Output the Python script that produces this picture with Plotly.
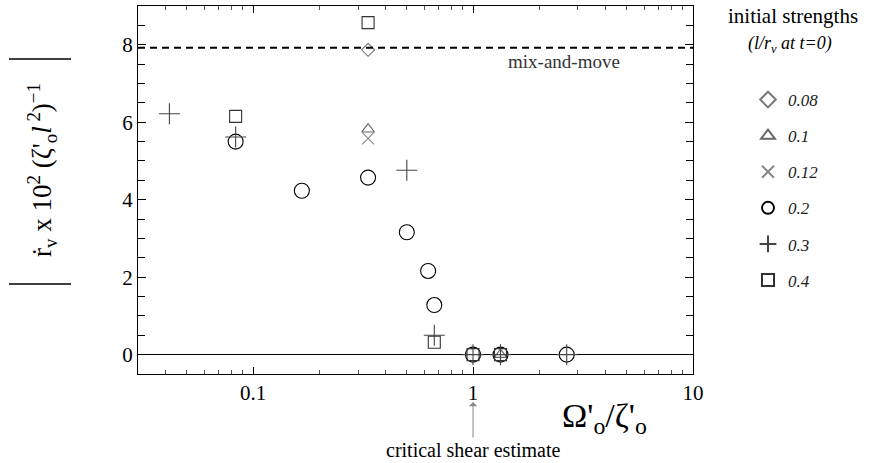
import plotly.graph_objects as go

# ---------------- data ----------------
strength_labels = ["0.08", "0.1", "0.12", "0.2", "0.3", "0.4"]

x_008 = [1/3]
y_008 = [7.87]

x_010 = [1/3, 4/3]
y_010 = [5.82, 0.0]

x_012 = [1/3]
y_012 = [5.58]

x_020 = [1/12, 1/6, 1/3, 1/2, 0.625, 2/3, 1.0, 4/3, 8/3]
y_020 = [5.50, 4.23, 4.57, 3.16, 2.16, 1.28, 0.0, 0.0, 0.0]

x_030 = [1/24, 1/12, 1/2, 2/3, 1.0, 4/3, 8/3]
y_030 = [6.22, 5.62, 4.76, 0.50, 0.0, 0.0, 0.0]

x_040 = [1/12, 1/3, 2/3, 1.0, 4/3]
y_040 = [6.15, 8.57, 0.32, 0.0, 0.0]

mix_and_move_level = 7.92
critical_shear = 1.0

x_tick_vals = [0.1, 1, 10]
x_tick_text = ["0.1", "1", "10"]
y_tick_vals = [0, 2, 4, 6, 8]
y_tick_text = ["0", "2", "4", "6", "8"]

# ---------------- layout geometry (pixels) ----------------
W, H = 869, 463
L, R, T, B = 138, 693, 6, 374
FONT = "Liberation Serif"


def px(xp):
    return (xp - L) / (R - L)


def py(yp):
    return (B - yp) / (B - T)


series = [
    (x_008, y_008, "diamond-open", 10, "#777777"),
    (x_010, y_010, "triangle-up-open", 11, "#666666"),
    (x_012, y_012, "x-thin-open", 12, "#888888"),
    (x_020, y_020, "circle-open", 15, "#000000"),
    (x_030, y_030, "cross-thin-open", 15, "#444444"),
    (x_040, y_040, "square-open", 12, "#333333"),
]

fig = go.Figure()
for lab, (xs, ys, sym, size, col) in zip(strength_labels, series):
    fig.add_trace(go.Scatter(
        x=xs, y=ys, mode="markers", name="<i>" + lab + "</i>",
        legendgroup=lab,
        marker=dict(symbol=sym, size=size, color=col, line=dict(width=1.1, color=col)),
    ))

fig.update_layout(
    width=W, height=H,
    margin=dict(l=L, r=W - R, t=T, b=H - B, pad=0),
    paper_bgcolor="white", plot_bgcolor="white",
    font=dict(family=FONT, size=19, color="black"),
    showlegend=True,
    legend=dict(
        x=px(748), y=py(82), xanchor="left", yanchor="top",
        font=dict(family=FONT, size=17, color="#222222"),
        tracegroupgap=11, bgcolor="rgba(0,0,0,0)", borderwidth=0,
        itemsizing="constant",
    ),
)

fig.update_xaxes(
    type="log", range=[-1.523, 1.0],
    showline=True, linecolor="black", linewidth=1, mirror="ticks",
    ticks="inside", ticklen=7, tickcolor="black", tickwidth=1,
    tickvals=x_tick_vals, ticktext=x_tick_text,
    tickfont=dict(family=FONT, size=21, color="black"),
    minor=dict(ticks="inside", ticklen=4, tickcolor="#555555", dtick="D1", showgrid=False),
    showgrid=False, zeroline=False,
)
fig.update_yaxes(
    range=[-0.5, 9.0],
    showline=True, linecolor="black", linewidth=1, mirror="ticks",
    ticks="inside", ticklen=8, tickcolor="black", tickwidth=1,
    tickvals=y_tick_vals, ticktext=y_tick_text,
    tickfont=dict(family=FONT, size=21, color="black"),
    minor=dict(ticks="inside", ticklen=7, tickcolor="black", dtick=0.5, showgrid=False),
    showgrid=False, zeroline=True, zerolinecolor="black", zerolinewidth=1,
)

# mix-and-move dashed line
fig.add_shape(type="line", xref="paper", x0=0, x1=1, yref="y",
              y0=mix_and_move_level, y1=mix_and_move_level,
              line=dict(color="black", width=2, dash="7px,5px"))

# |...| bars for the y title
for yb in (59, 284):
    fig.add_shape(type="line", xref="paper", yref="paper",
                  x0=px(9), x1=px(71), y0=py(yb), y1=py(yb),
                  line=dict(color="black", width=1.5))

C = dict(xanchor="center", yanchor="middle", showarrow=False)
ann = []
ann.append(dict(text="mix-and-move", xref="paper", yref="paper",
                x=px(564), y=py(61), **C,
                font=dict(family=FONT, size=19, color="#333333")))
ann.append(dict(text="Ω'<sub>o</sub>/ζ'<sub>o</sub>", xref="paper", yref="paper",
                x=px(604), y=py(418), **C,
                font=dict(family=FONT, size=34, color="black")))
ann.append(dict(text="critical shear estimate", xref="x", yref="paper",
                x=0, y=py(402), ax=0, ay=48, axref="pixel", ayref="pixel",
                xanchor="center", yanchor="middle",
                showarrow=True, arrowhead=1, arrowsize=1.4, arrowwidth=1,
                arrowcolor="#888888",
                font=dict(family=FONT, size=20, color="black")))
ann.append(dict(text="ṙ<sub>v</sub> x 10<sup>2</sup> (ζ'<sub>o</sub><i>l</i><sup> 2</sup>)<sup>−1</sup>",
                xref="paper", yref="paper", x=px(42), y=py(170),
                textangle=-90, **C,
                font=dict(family=FONT, size=27, color="black")))
ann.append(dict(text="initial strengths", xref="paper", yref="paper",
                x=px(793), y=py(16), **C,
                font=dict(family=FONT, size=21, color="black")))
ann.append(dict(text="<i>(l/r<sub>v</sub> at t=0)</i>", xref="paper", yref="paper",
                x=px(790), y=py(44), **C,
                font=dict(family=FONT, size=18, color="black")))
fig.update_layout(annotations=ann)

fig.write_html("out.html")
